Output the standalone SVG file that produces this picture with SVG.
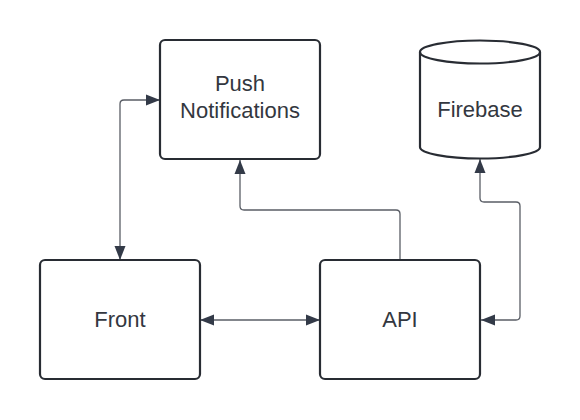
<svg xmlns="http://www.w3.org/2000/svg" width="580" height="420" viewBox="0 0 580 420">
<style>
.box{fill:#fff;stroke:#282c33;stroke-width:2.2}
.lbl{font-family:"Liberation Sans",Arial,sans-serif;font-size:22px;fill:#333740;text-anchor:middle}
.con{fill:none;stroke:#5a5e66;stroke-width:1.3}
</style>
<defs>
<marker id="ah" viewBox="0 0 14 12" refX="14" refY="6" markerWidth="14" markerHeight="12" markerUnits="userSpaceOnUse" orient="auto-start-reverse">
<path d="M0,0.5 L14,6 L0,11.5 Z" fill="#333a48"/>
</marker>
</defs>
<rect width="580" height="420" fill="#fff"/>
<g id="connectors">
<path class="con" d="M160,100 H124 Q120,100 120,104 V260" marker-start="url(#ah)" marker-end="url(#ah)"/>
<path class="con" d="M200,320 H320" marker-start="url(#ah)" marker-end="url(#ah)"/>
<path class="con" d="M400,260 V214 Q400,210 396,210 H244 Q240,210 240,206 V160" marker-end="url(#ah)"/>
<path class="con" d="M480,159 V198 Q480,202 484,202 H516 Q520,202 520,206 V316 Q520,320 516,320 H481" marker-start="url(#ah)" marker-end="url(#ah)"/>
</g>
<g id="push">
<rect class="box" x="160" y="40" width="160" height="119" rx="5"/>
<text class="lbl" x="240" y="91">Push</text>
<text class="lbl" x="240" y="118">Notifications</text>
</g>
<g id="firebase">
<path class="box" d="M420,52 V147 A60,11.5 0 0 0 540,147 V52 A60,11.5 0 0 0 420,52 Z"/>
<path fill="none" stroke="#282c33" stroke-width="2.2" d="M420,52 A60,11.5 0 0 0 540,52"/>
<text class="lbl" x="480" y="117">Firebase</text>
</g>
<g id="front">
<rect class="box" x="40" y="260" width="160" height="119" rx="5"/>
<text class="lbl" x="120" y="327">Front</text>
</g>
<g id="api">
<rect class="box" x="320" y="260" width="160" height="119" rx="5"/>
<text class="lbl" x="400" y="327">API</text>
</g>
</svg>
